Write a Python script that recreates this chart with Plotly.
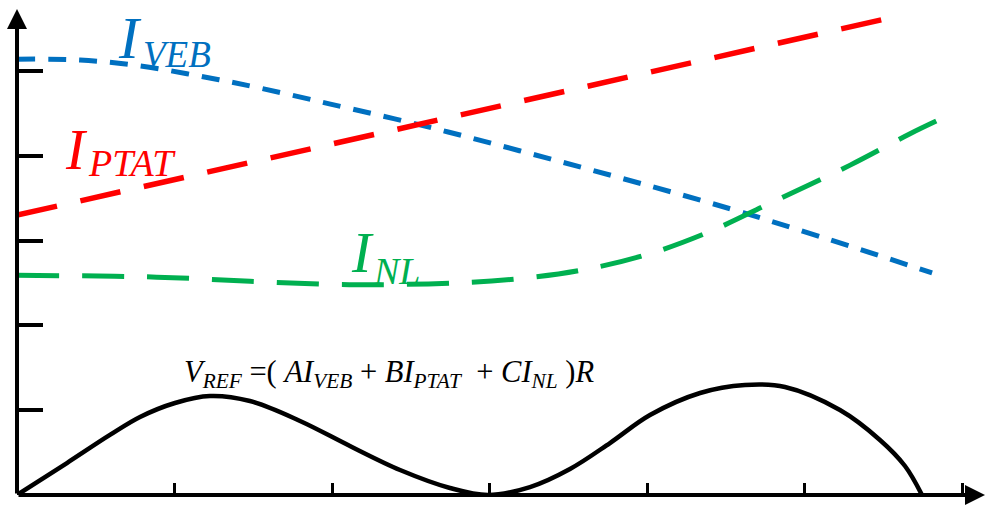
import plotly.graph_objects as go

# ---- data (axis units: x ticks at 1..6, y ticks at 1..5) ----
veb_x = [0, 0.40, 0.78, 1.16, 1.54, 1.99, 2.59, 3.19, 3.81, 4.61, 5.81]
veb_y = [5.14, 5.13, 5.06, 4.94, 4.80, 4.61, 4.35, 4.06, 3.75, 3.33, 2.62]

ptat_x = [0, 5.54]
ptat_y = [3.30, 5.625]

nl_x = [0, 0.62, 1.04, 1.48, 2.11, 2.77, 3.18, 3.58, 3.99, 4.39, 4.78, 5.29, 5.67, 5.86]
nl_y = [2.59, 2.58, 2.56, 2.52, 2.48, 2.50, 2.55, 2.65, 2.83, 3.10, 3.44, 3.89, 4.26, 4.43]

vref_x = [0, 0.317, 0.590, 0.781, 1.003, 1.225, 1.479, 1.797, 2.114, 2.432, 2.749, 2.990,
          3.257, 3.511, 3.765, 4.019, 4.337, 4.622, 4.876, 5.225, 5.479, 5.638, 5.746]
vref_y = [0, 0.377, 0.708, 0.920, 1.085, 1.167, 1.108, 0.873, 0.578, 0.295, 0.083, 0,
          0.094, 0.307, 0.613, 0.943, 1.203, 1.297, 1.274, 1.002, 0.649, 0.342, 0]

x_ticks = [1, 2, 3, 4, 5, 6]
y_ticks = [1, 2, 3, 4, 5]

BLUE = '#0070C0'
RED = '#FF0000'
GREEN = '#00B050'
FONT = 'Liberation Serif'

fig = go.Figure()
fig.add_trace(go.Scatter(x=veb_x, y=veb_y, mode='lines',
                         line=dict(color=BLUE, width=5, dash='18px,13px', shape='spline', smoothing=1.0)))
fig.add_trace(go.Scatter(x=ptat_x, y=ptat_y, mode='lines',
                         line=dict(color=RED, width=5.5, dash='41px,24px')))
fig.add_trace(go.Scatter(x=nl_x, y=nl_y, mode='lines',
                         line=dict(color=GREEN, width=5, dash='42px,23px', shape='spline', smoothing=1.0)))
fig.add_trace(go.Scatter(x=vref_x, y=vref_y, mode='lines',
                         line=dict(color='black', width=4.5, shape='spline', smoothing=1.0)))

X_MAX = 969 / 157.5
Y_MAX = 489 / 84.8

annotations = [
    # axes with arrowheads
    dict(x=0, y=5.73, ax=0, ay=0, xref='x', yref='y', axref='x', ayref='y', text='',
         showarrow=True, arrowhead=2, arrowsize=1.0, arrowwidth=4, arrowcolor='black', standoff=0),
    dict(x=6.146, y=0, ax=0, ay=0, xref='x', yref='y', axref='x', ayref='y', text='',
         showarrow=True, arrowhead=2, arrowsize=1.0, arrowwidth=4, arrowcolor='black', standoff=0),
]

def label(x, y, txt, size, color):
    return dict(x=x, y=y, xref='x', yref='y', text='<i>' + txt + '</i>', showarrow=False,
                xanchor='left', yanchor='middle', font=dict(family=FONT, size=size, color=color))

annotations += [
    label(0.63, 5.39, 'I', 60, BLUE),
    label(0.79, 5.20, 'VEB', 37, BLUE),
    label(0.29, 4.08, 'I', 57, RED),
    label(0.44, 3.91, 'PTAT', 38, RED),
    label(2.11, 2.86, 'I', 58, GREEN),
    label(2.25, 2.64, 'NL', 38, GREEN),
]

sub = '<sub style="font-size:60%">'
formula = ('<i>V' + sub + 'REF</sub></i> =( <i>AI' + sub + 'VEB</sub></i> + <i>BI' + sub +
           'PTAT</sub></i>&nbsp; + <i>CI' + sub + 'NL</sub></i> )<i>R</i>')
annotations.append(dict(x=1.05, y=1.43, xref='x', yref='y', text=formula, showarrow=False,
                        xanchor='left', yanchor='middle', font=dict(family=FONT, size=30.5, color='black')))

fig.update_layout(
    width=986, height=506,
    margin=dict(l=17, r=0, t=6, b=11),
    paper_bgcolor='white', plot_bgcolor='white',
    showlegend=False,
    annotations=annotations,
    xaxis=dict(range=[0, X_MAX], tickvals=x_ticks, ticks='inside', ticklen=12, tickwidth=3,
               tickcolor='black', showticklabels=False, showgrid=False, zeroline=False, showline=False),
    yaxis=dict(range=[0, Y_MAX], tickvals=y_ticks, ticks='inside', ticklen=26, tickwidth=4,
               tickcolor='black', showticklabels=False, showgrid=False, zeroline=False, showline=False),
)

fig.write_html('out.html')
